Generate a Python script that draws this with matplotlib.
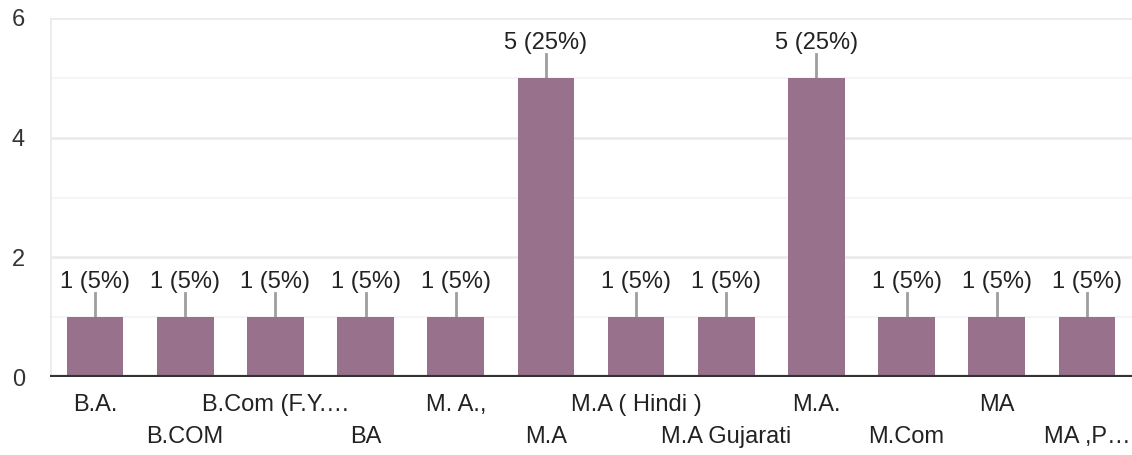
import numpy as np
import matplotlib.pyplot as plt

plt.rcParams['font.family'] = ['Liberation Sans', 'DejaVu Sans']

# data
categories = ['B.A.', 'B.COM', 'B.Com (F.Y.…', 'BA', 'M. A.,', 'M.A',
              'M.A ( Hindi )', 'M.A Gujarati', 'M.A.', 'M.Com', 'MA', 'MA ,P…']
counts = [1, 1, 1, 1, 1, 5, 1, 1, 5, 1, 1, 1]
percents = [5, 5, 5, 5, 5, 25, 5, 5, 25, 5, 5, 5]

fig = plt.figure(figsize=(11.32, 4.55), dpi=100)
ax = fig.add_axes([50 / 1132, 1 - 377 / 455, 1 - 50 / 1132, (377 - 18) / 455])

x = np.arange(len(categories))
ax.bar(x, counts, width=0.63, color='#98718c', zorder=3)

# gridlines
for y in [1, 3, 5]:
    ax.axhline(y, color='#f5f5f5', lw=1.5, zorder=1)
for y in [2, 4, 6]:
    ax.axhline(y, color='#ebebeb', lw=2, zorder=1)
ax.axvline(-0.5, color='#ebebeb', lw=2, zorder=1)
ax.axhline(0, color='#333333', lw=3, zorder=4)

# value labels with leader lines
for xi, c, p in zip(x, counts, percents):
    ax.plot([xi, xi], [c, c + 0.4], color='#9e9e9e', lw=2, zorder=2)
    ax.text(xi, c + 0.58, '%d (%d%%)' % (c, p), ha='center', va='center',
            fontsize=17, color='#222222')

ax.set_xlim(-0.5, 11.5)
ax.set_ylim(0, 6)
ax.set_yticks([0, 2, 4, 6])
ax.tick_params(axis='y', length=0, pad=18, labelsize=17, labelcolor='#333333')
ax.set_xticks(x)
ax.set_xticklabels(categories)
ax.tick_params(axis='x', length=0, labelsize=17, labelcolor='#222222')
for i, t in enumerate(ax.xaxis.get_major_ticks()):
    t.set_pad(12.5 if i % 2 == 0 else 35.5)

for s in ax.spines.values():
    s.set_visible(False)

fig.savefig('out.png', dpi=100)
